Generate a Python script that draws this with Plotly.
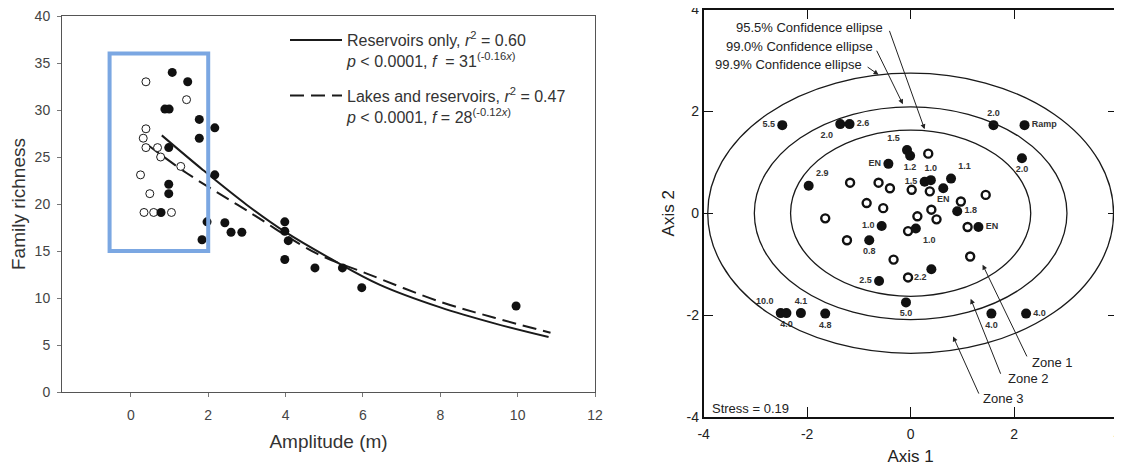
import plotly.graph_objects as go

# ---------------- Left panel data ----------------
open_amp = [0.39, 1.44, 0.39, 0.32, 0.39, 0.69, 0.77, 1.29, 0.25, 0.49, 0.34, 0.59, 1.05]
open_rich = [33.0, 31.1, 28.0, 27.0, 26.0, 26.0, 25.0, 24.0, 23.1, 21.1, 19.1, 19.1, 19.1]
fill_amp = [1.07, 1.47, 0.88, 0.99, 1.77, 2.17, 1.77, 0.98, 2.17, 0.98, 0.98, 0.78, 1.97,
            2.43, 2.59, 2.87, 1.84, 3.98, 3.98, 4.07, 3.98, 4.76, 5.47, 5.97, 9.96]
fill_rich = [34.0, 33.0, 30.1, 30.1, 29.0, 28.1, 27.0, 26.0, 23.1, 22.1, 21.1, 19.1, 18.1,
             18.0, 17.0, 17.0, 16.2, 18.1, 17.1, 16.1, 14.1, 13.2, 13.2, 11.1, 9.15]
res_fit_x = [0.8, 1.87, 3.0, 4.0, 5.2, 6.44, 8.0, 9.4, 10.8]
res_fit_y = [27.3, 23.6, 19.9, 17.0, 14.1, 11.4, 9.0, 7.3, 5.85]
lake_fit_x = [0.43, 1.44, 3.0, 4.8, 6.1, 8.0, 9.4, 10.85]
lake_fit_y = [26.3, 23.3, 19.3, 14.75, 12.6, 9.6, 7.9, 6.3]
highlight_x = [-0.55, 2.0]
highlight_y = [15.0, 36.0]

# ---------------- Right panel data ----------------
fill_ax1 = [-2.48, -1.36, -1.18, -0.07, -0.01, -0.43, -1.97, 0.27, 0.39, 0.78, 0.63, 0.90,
            1.31, -0.56, 0.10, -0.80, 0.40, -0.61, -0.09, -2.51, -2.40, -2.12, -1.65, 1.56,
            2.23, 1.60, 2.20, 2.15]
fill_ax2 = [1.73, 1.75, 1.75, 1.24, 1.13, 0.97, 0.54, 0.62, 0.65, 0.68, 0.49, 0.04,
            -0.27, -0.25, -0.30, -0.53, -1.10, -1.33, -1.75, -1.96, -1.96, -1.96, -1.97, -1.97,
            -1.97, 1.73, 1.73, 1.08]
fill_labels = ["5.5", "2.0", "2.6", "1.5", "1.2", "EN", "2.9", "1.5", "1.0", "1.1", "EN", "1.8",
               "EN", "1.0", "1.0", "0.8", "", "2.5", "5.0", "10.0", "4.0", "4.1", "4.8", "4.0",
               "4.0", "2.0", "Ramp", "2.0"]
fill_label_pos = ["middle left", "bottom left", "middle right", "top left", "bottom center",
                  "middle left", "top right", "middle left", "top center", "top right",
                  "bottom center", "middle right", "middle right", "middle left", "bottom right",
                  "bottom center", "middle right", "middle left", "bottom center", "top left",
                  "bottom center", "top center", "bottom center", "bottom center", "middle right",
                  "top center", "middle right", "bottom center"]
open_ax1 = [0.34, -1.17, -0.62, -0.40, 0.02, 0.37, 1.45, 0.97, -0.85, -0.53, 0.40, -1.65,
            0.13, 0.50, 1.10, -0.05, -1.23, -0.33, 1.15, -0.05]
open_ax2 = [1.17, 0.60, 0.60, 0.49, 0.46, 0.43, 0.36, 0.23, 0.20, 0.10, 0.07, -0.10,
            -0.06, -0.12, -0.27, -0.35, -0.53, -0.91, -0.85, -1.26]
open_labels = [""] * 19 + ["2.2"]

ellipse_names = ["95.5% Confidence ellipse", "99.0% Confidence ellipse", "99.9% Confidence ellipse"]
ellipse_a = [2.32, 3.02, 3.92]
ellipse_b = [1.63, 2.09, 2.75]
zone_names = ["Zone 1", "Zone 2", "Zone 3"]
stress_text = "Stress = 0.19"

FONT = "Liberation Sans, Arial, sans-serif"
W, H = 1114, 458  # page body has an 8px margin inside the 1122x466 window
OFF = 8


def dx(px):
    return (px - OFF) / W


def dy(py):
    return 1 - (py - OFF) / H


fig = go.Figure()

# Left panel traces
fig.add_trace(go.Scatter(x=res_fit_x, y=res_fit_y, mode="lines", line=dict(color="#1a1a1a", width=2, shape="spline"),
                         name="Reservoirs only, <i>r</i><sup>2</sup> = 0.60<br><i>p</i> < 0.0001, <i>f</i>  = 31<sup>(-0.16<i>x</i>)</sup>",
                         legendgroup="g1", xaxis="x", yaxis="y"))
fig.add_trace(go.Scatter(x=lake_fit_x, y=lake_fit_y, mode="lines",
                         line=dict(color="#1a1a1a", width=2, dash="14px,7px", shape="spline"),
                         name="Lakes and reservoirs, <i>r</i><sup>2</sup> = 0.47<br><i>p</i> < 0.0001, <i>f</i> = 28<sup>(-0.12<i>x</i>)</sup>",
                         legendgroup="g2", xaxis="x", yaxis="y"))
fig.add_trace(go.Scatter(x=open_amp, y=open_rich, mode="markers", showlegend=False,
                         marker=dict(size=8, color="white", line=dict(color="#1a1a1a", width=1)),
                         xaxis="x", yaxis="y"))
fig.add_trace(go.Scatter(x=fill_amp, y=fill_rich, mode="markers", showlegend=False,
                         marker=dict(size=9, color="#111111", line=dict(width=0)),
                         xaxis="x", yaxis="y"))

# Right panel traces
fig.add_trace(go.Scatter(x=open_ax1, y=open_ax2, mode="markers+text", showlegend=False,
                         text=open_labels, textposition="middle right",
                         textfont=dict(size=9, color="#333", family=FONT, weight="bold"),
                         marker=dict(size=8, color="white", line=dict(color="#111", width=2.4)),
                         xaxis="x2", yaxis="y2"))
fig.add_trace(go.Scatter(x=fill_ax1, y=fill_ax2, mode="markers+text", showlegend=False,
                         text=fill_labels, textposition=fill_label_pos,
                         textfont=dict(size=9, color="#333", family=FONT, weight="bold"),
                         marker=dict(size=10, color="#111111", line=dict(width=0)),
                         xaxis="x2", yaxis="y2"))

shapes = [dict(type="rect", xref="x", yref="y", x0=highlight_x[0], x1=highlight_x[1],
               y0=highlight_y[0], y1=highlight_y[1], line=dict(color="#7ba7e2", width=4),
               fillcolor="rgba(0,0,0,0)")]
for a, b in zip(ellipse_a, ellipse_b):
    shapes.append(dict(type="circle", xref="x2", yref="y2", x0=-a, x1=a, y0=-b, y1=b,
                       line=dict(color="#1a1a1a", width=1.3)))

annotations = []
ell_text_pos = [(-3.42, 3.65), (-3.61, 3.28), (-3.82, 2.93)]
ell_tail = [(-0.42, 3.61), (-0.67, 3.22), (-0.86, 2.89)]
ell_head = [(0.27, 1.65), (-0.15, 2.14), (-0.62, 2.72)]
for name, tp, tl, hd in zip(ellipse_names, ell_text_pos, ell_tail, ell_head):
    annotations.append(dict(x=tp[0], y=tp[1], xref="x2", yref="y2", text=name, showarrow=False,
                            xanchor="left", yanchor="middle", font=dict(size=13, color="#222", family=FONT)))
    annotations.append(dict(x=hd[0], y=hd[1], ax=tl[0], ay=tl[1], xref="x2", yref="y2",
                            axref="x2", ayref="y2", text="", showarrow=True, arrowhead=2,
                            arrowsize=1, arrowwidth=1, arrowcolor="#222", standoff=0, startstandoff=0))
zone_text_pos = [(2.74, -2.93), (2.26, -3.24), (1.79, -3.63)]
zone_tail = [(2.26, -2.84), (1.75, -3.18), (1.33, -3.57)]
zone_head = [(1.39, -1.01), (1.16, -1.68), (0.82, -2.42)]
for name, tp, tl, hd in zip(zone_names, zone_text_pos, zone_tail, zone_head):
    annotations.append(dict(x=tp[0], y=tp[1], xref="x2", yref="y2", text=name, showarrow=False,
                            xanchor="center", yanchor="middle", font=dict(size=13, color="#222", family=FONT)))
    annotations.append(dict(x=hd[0], y=hd[1], ax=tl[0], ay=tl[1], xref="x2", yref="y2",
                            axref="x2", ayref="y2", text="", showarrow=True, arrowhead=2,
                            arrowsize=1, arrowwidth=1, arrowcolor="#222", standoff=0, startstandoff=0))
annotations.append(dict(x=-3.88, y=-3.83, xref="x2", yref="y2", text=stress_text, showarrow=False,
                        xanchor="left", yanchor="middle", font=dict(size=13, color="#222", family=FONT)))

fig.update_layout(
    width=W, height=H,
    margin=dict(l=0, r=0, t=0, b=0, autoexpand=False),
    paper_bgcolor="white", plot_bgcolor="white",
    font=dict(family=FONT, color="#333"),
    showlegend=True,
    legend=dict(x=dx(285), y=dy(23), xanchor="left", yanchor="top", bgcolor="rgba(0,0,0,0)",
                font=dict(size=16, color="#333", family=FONT), valign="top",
                traceorder="grouped", tracegroupgap=11, itemwidth=52),
    xaxis=dict(domain=[dx(62), dx(595)], range=[-1.78, 12], tickvals=[0, 2, 4, 6, 8, 10, 12],
               ticks="outside", ticklen=4, tickcolor="#777", showline=True, linecolor="#555",
               linewidth=1, mirror=True, showgrid=False, zeroline=False, automargin=False,
               ticklabelstandoff=6, ticklabeloverflow="allow",
               tickfont=dict(size=14, color="#444"), anchor="y",
               title=dict(text="Amplitude (m)", font=dict(size=19, color="#333"), standoff=12)),
    yaxis=dict(domain=[dy(392), dy(16)], range=[0, 40], tickvals=[0, 5, 10, 15, 20, 25, 30, 35, 40],
               ticks="outside", ticklen=4, tickcolor="#777", showline=True, linecolor="#555",
               linewidth=1, mirror=True, showgrid=False, zeroline=False, automargin=False,
               ticklabelstandoff=4, ticklabeloverflow="allow",
               tickfont=dict(size=14, color="#444"), anchor="x",
               title=dict(text="Family richness", font=dict(size=19, color="#333"), standoff=10)),
    xaxis2=dict(domain=[dx(703.6), dx(1117.7)], range=[-4, 4], tickvals=[-4, -2, 0, 2, 4],
                ticktext=["-4", "-2", "0", "2", "4"], ticks="inside", ticklen=10, tickcolor="#111",
                tickwidth=1.3, showline=True, linecolor="#111", linewidth=1.5, mirror="ticks",
                showgrid=False, zeroline=False, tickfont=dict(size=14, color="#222"), anchor="y2",
                automargin=False, ticklabelstandoff=3, ticklabeloverflow="allow",
                title=dict(text="Axis 1", font=dict(size=17, color="#222"), standoff=10)),
    yaxis2=dict(domain=[dy(417), dy(9.5)], range=[-4, 4], tickvals=[-4, -2, 0, 2, 4],
                ticktext=["-4", "-2", "0", "2", "4"], ticks="inside", ticklen=10, tickcolor="#111",
                tickwidth=1.3, showline=True, linecolor="#111", linewidth=1.5, mirror="ticks",
                showgrid=False, zeroline=False, tickfont=dict(size=14, color="#222"), anchor="x2",
                automargin=False, ticklabeloverflow="allow",
                title=dict(text="Axis 2", font=dict(size=17, color="#222"), standoff=8)),
    shapes=shapes,
    annotations=annotations,
)

fig.write_html("out.html")
